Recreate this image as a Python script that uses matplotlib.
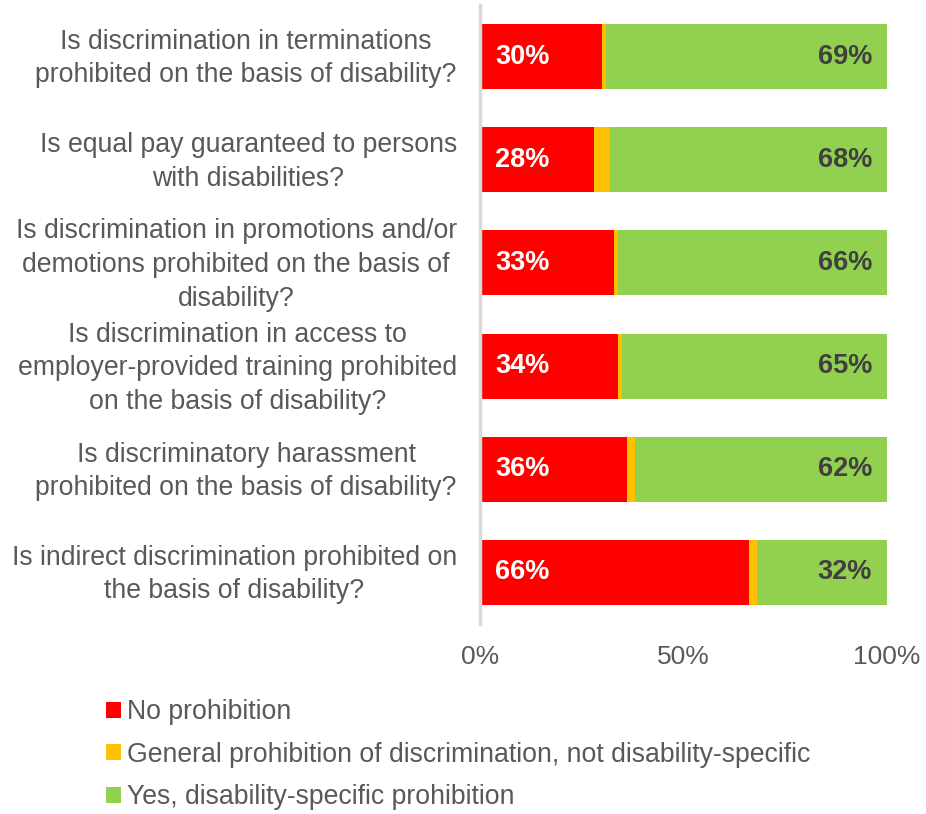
import matplotlib
matplotlib.use('Agg')
import matplotlib.pyplot as plt
from matplotlib.patches import Patch

plt.rcParams['font.family'] = ['Liberation Sans', 'DejaVu Sans']

# Survey questions, top to bottom
questions = [
    'Is discrimination in terminations\nprohibited on the basis of disability?',
    'Is equal pay guaranteed to persons\nwith disabilities?',
    'Is discrimination in promotions and/or\ndemotions prohibited on the basis of\ndisability?',
    'Is discrimination in access to\nemployer-provided training prohibited\non the basis of disability?',
    'Is discriminatory harassment\nprohibited on the basis of disability?',
    'Is indirect discrimination prohibited on\nthe basis of disability?',
]
no_prohibition = [30, 28, 33, 34, 36, 66]
general_prohibition = [1, 4, 1, 1, 2, 2]
specific_prohibition = [69, 68, 66, 65, 62, 32]

series_names = [
    'No prohibition',
    'General prohibition of discrimination, not disability-specific',
    'Yes, disability-specific prohibition',
]
colors = ['#ff0000', '#ffc000', '#92d050']
text_grey = '#595959'

fig = plt.figure(figsize=(9.26, 8.14), dpi=100)
ax = fig.add_axes([480 / 926, 1 - 624 / 814, 407 / 926, 619 / 814])

ypos = list(range(len(questions)))
bar_h = 0.63
left2 = [a + b for a, b in zip(no_prohibition, general_prohibition)]
ax.barh(ypos, no_prohibition, height=bar_h, color=colors[0])
ax.barh(ypos, general_prohibition, left=no_prohibition, height=bar_h, color=colors[1])
ax.barh(ypos, specific_prohibition, left=left2, height=bar_h, color=colors[2])

ax.set_xlim(0, 100)
ax.set_ylim(len(questions) - 0.5, -0.5)

# value labels
for y, red, green in zip(ypos, no_prohibition, specific_prohibition):
    ax.text(3.7, y, f'{red}%', ha='left', va='center', color='white',
            fontsize=19.5, fontweight='bold')
    ax.text(96.3, y, f'{green}%', ha='right', va='center', color='#404040',
            fontsize=19.5, fontweight='bold')

# question labels, centred lines in a right-aligned block
for y, q in zip(ypos, questions):
    ax.text(-0.057, y + 0.02, q, transform=ax.get_yaxis_transform(), ha='right',
            va='center', multialignment='center', color=text_grey,
            fontsize=19.2, linespacing=1.38)

ax.set_yticks([])
ax.set_xticks([0, 50, 100])
ax.set_xticklabels(['0%', '50%', '100%'])
ax.tick_params(axis='x', length=0, pad=15, labelsize=19, labelcolor=text_grey)
for side in ['top', 'right', 'bottom']:
    ax.spines[side].set_visible(False)
ax.spines['left'].set_color('#d9d9d9')
ax.spines['left'].set_linewidth(2.5)

handles = [Patch(facecolor=c, edgecolor='none') for c in colors]
fig.legend(handles, series_names, loc='upper left',
           bbox_to_anchor=(106 / 926, 1 - 699 / 814), frameon=False,
           fontsize=19.2, labelcolor=text_grey, handlelength=0.55,
           handleheight=0.55, handletextpad=0.25, labelspacing=0.62,
           borderpad=0, borderaxespad=0)

fig.savefig('out.png', dpi=100)
